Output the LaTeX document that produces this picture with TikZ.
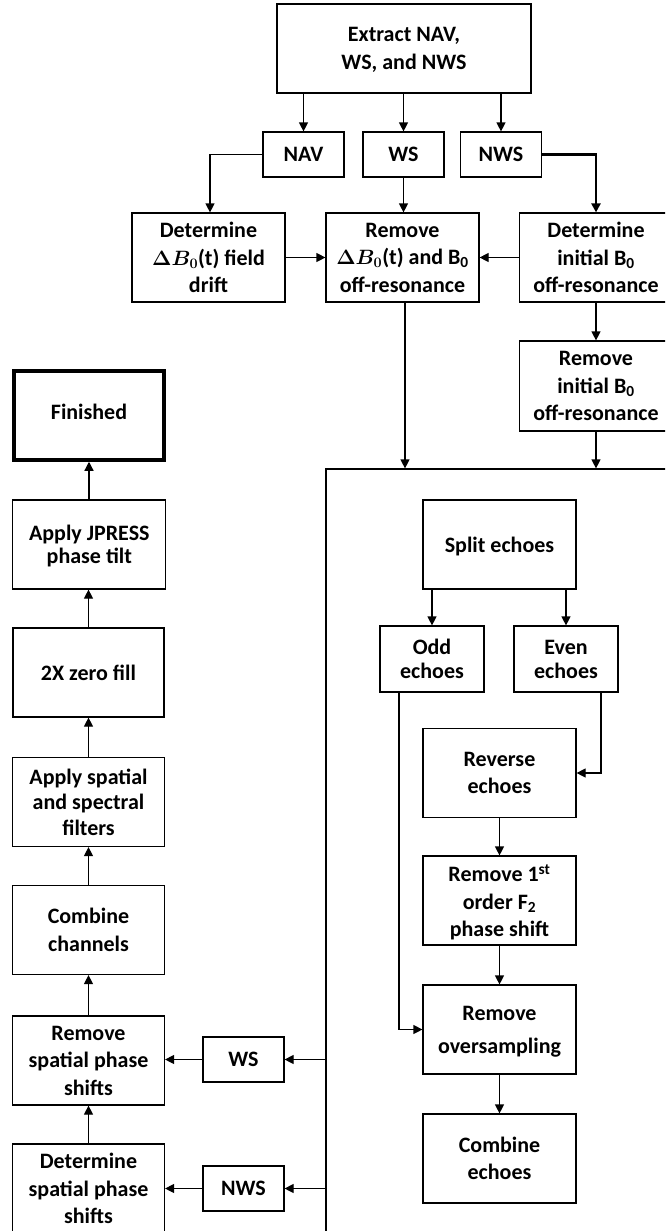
\documentclass[tikz,border=0pt]{standalone}
\usepackage{fontspec}
\setmainfont{Carlito}
\usetikzlibrary{arrows.meta}
\tikzset{
  box/.style={draw, line width=1.2pt, rectangle, align=center, inner sep=2pt,
    font=\bfseries\fontsize{22}{27.5}\selectfont, text depth=0pt},
  bigstep/.style={box, minimum width=153pt, minimum height=89pt},
  tag/.style={box, minimum width=81pt, minimum height=45pt},
  arr/.style={line width=1.2pt, -{Triangle[length=9pt,width=9pt]}},
  thickarr/.style={line width=2.6pt, -{Triangle[length=9pt,width=9pt]}}
}
\begin{document}
\begin{tikzpicture}[x=1pt,y=-1pt]
\useasboundingbox (0,0) rectangle (665,1231);
\clip (0,0) rectangle (665,1231);
\fill[white] (0,0) rectangle (665,1231);
% top part
\node[box, minimum width=254pt, minimum height=89pt] (extract) at (404,48.5) {Extract NAV,\\WS, and NWS};
\node[tag] (nav) at (303.5,154.5) {NAV};
\node[tag] (ws1) at (403.5,154.5) {WS};
\node[tag] (nws1) at (501,154.5) {NWS};
\node[bigstep] (detdrift) at (208.5,257.5) {Determine\\{\boldmath$\Delta B_0$}(t) field\\drift};
\node[bigstep] (remdrift) at (402.5,257.5) {Remove\\{\boldmath$\Delta B_0$}(t) and B\textsubscript{0}\\off-resonance};
\node[bigstep] (detinit) at (596,257.5) {Determine\\initial B\textsubscript{0}\\off-resonance};
\node[bigstep, minimum height=90pt] (reminit) at (596,386) {Remove\\initial B\textsubscript{0}\\off-resonance};
% big container
\node[draw, line width=1.2pt, minimum width=374pt, minimum height=790pt, inner sep=0pt] (big) at (513,864) {};
% left column
\node[bigstep, line width=3.5pt, minimum width=150pt, minimum height=89pt] (finished) at (89,415.5) {\raisebox{7pt}{Finished}};
\node[bigstep, font=\bfseries\fontsize{22}{23.5}\selectfont] (jpress) at (89.3,544.5) {Apply JPRESS\\phase tilt};
\node[bigstep, minimum width=151pt] (zerofill) at (88.5,672.5) {2X zero fill};
\node[bigstep, minimum width=152pt, font=\bfseries\fontsize{22}{25.7}\selectfont] (filters) at (88.5,802) {Apply spatial\\and spectral\\filters};
\node[bigstep, minimum width=152pt] (channels) at (88.5,930) {Combine\\channels};
\node[bigstep, minimum width=152pt] (remspatial) at (88.5,1060.5) {Remove\\spatial phase\\shifts};
\node[bigstep, minimum width=152pt] (detspatial) at (88.5,1188.5) {Determine\\spatial phase\\shifts};
\node[tag] (ws2) at (243.5,1059.5) {WS};
\node[tag] (nws2) at (243.5,1188.5) {NWS};
% inner column
\node[bigstep] (split) at (499.5,544.5) {Split echoes};
\node[box, minimum width=104pt, minimum height=66pt, font=\bfseries\fontsize{22}{24}\selectfont] (odd) at (432,659) {Odd\\echoes};
\node[box, minimum width=104pt, minimum height=66pt, font=\bfseries\fontsize{22}{24}\selectfont] (even) at (566,659) {Even\\echoes};
\node[bigstep] (reverse) at (499.5,773) {Reverse\\echoes};
\node[bigstep] (rem1st) at (499.5,900.5) {Remove 1\textsuperscript{st}\\order F\textsubscript{2}\\phase shift};
\node[bigstep, font=\bfseries\fontsize{22}{33}\selectfont] (oversamp) at (499.5,1029.5) {Remove\\oversampling};
\node[bigstep] (combechoes) at (499.5,1158.5) {Combine\\echoes};
% connectors top
\draw[arr] (extract.south -| nav.north) -- (nav.north);
\draw[arr] (extract.south -| ws1.north) -- (ws1.north);
\draw[arr] (extract.south -| nws1.north) -- (nws1.north);
\draw[arr] (nav.west) -| ([xshift=1.5pt]detdrift.north);
\draw[arr] (ws1.south) -- (ws1.south |- remdrift.north);
\draw[thickarr] (nws1.east) -| (detinit.north);
\draw[arr] (detdrift.east) -- (remdrift.west);
\draw[arr] (detinit.west) -- (remdrift.east);
\draw[arr] (detinit.south) -- (reminit.north);
\draw[arr] ([xshift=2.5pt]remdrift.south) -- ([xshift=2.5pt]remdrift.south |- big.north);
\draw[arr] (reminit.south) -- (reminit.south |- big.north);
% left column connectors
\draw[arr] (jpress.north -| finished.south) -- (finished.south);
\draw[arr] (zerofill.north) -- (zerofill.north |- jpress.south);
\draw[arr] (filters.north) -- (filters.north |- zerofill.south);
\draw[arr] (channels.north) -- (channels.north |- filters.south);
\draw[arr] (remspatial.north) -- (remspatial.north |- channels.south);
\draw[arr] (detspatial.north) -- (detspatial.north |- remspatial.south);
\draw[arr] (big.west |- ws2.east) -- (ws2.east);
\draw[arr] (ws2.west) -- (ws2.west -| remspatial.east);
\draw[arr] (big.west |- nws2.east) -- (nws2.east);
\draw[arr] (nws2.west) -- (nws2.west -| detspatial.east);
% inner connectors
\draw[arr] (split.south -| odd.north) -- (odd.north);
\draw[arr] (split.south -| even.north) -- (even.north);
\draw[arr] ([xshift=35pt]even.south) |- (reverse.east);
\draw[arr] ([xshift=-33pt]odd.south) |- (oversamp.west);
\draw[arr] (reverse.south) -- (rem1st.north);
\draw[arr] (rem1st.south) -- (oversamp.north);
\draw[arr] (oversamp.south) -- (combechoes.north);
\end{tikzpicture}
\end{document}
